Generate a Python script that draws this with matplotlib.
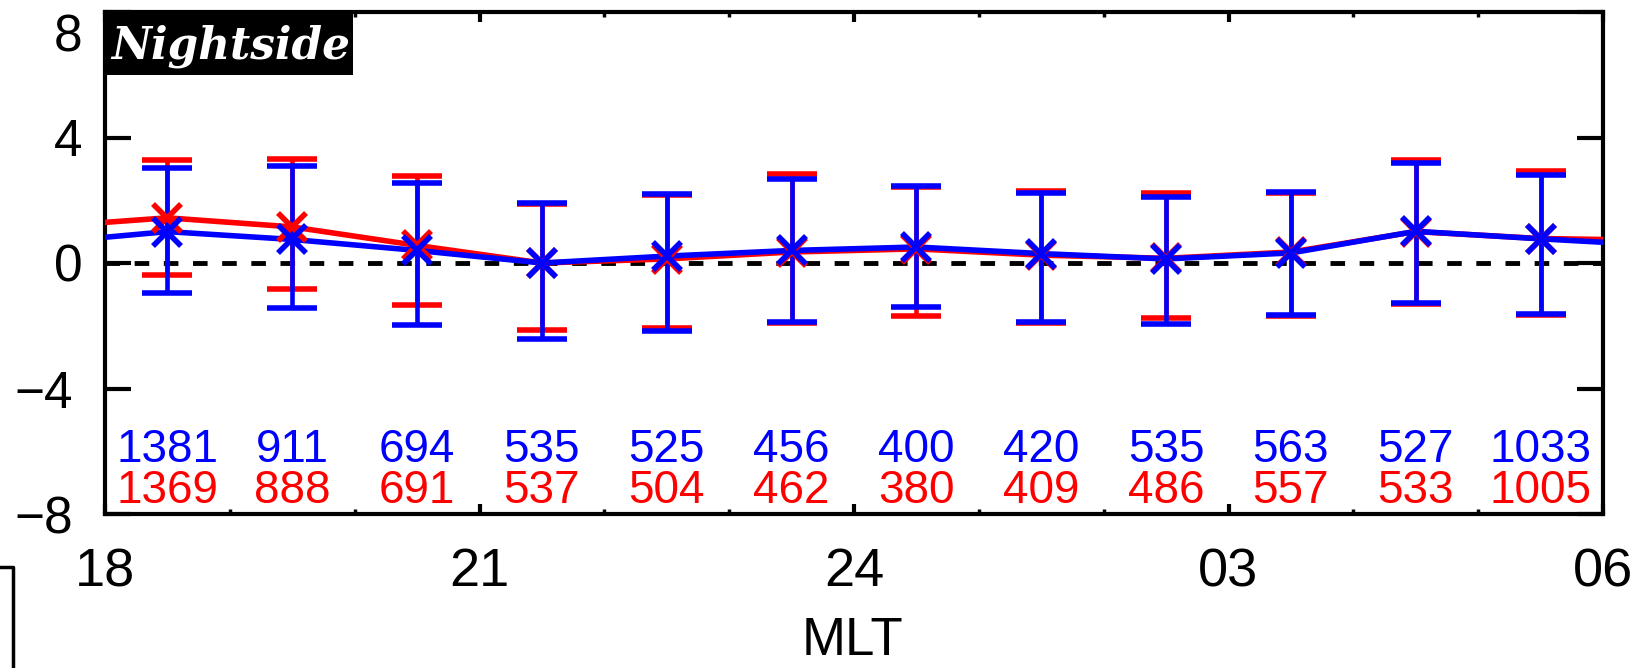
import matplotlib
matplotlib.use("Agg")
import matplotlib.pyplot as plt
import matplotlib.transforms as mtransforms
from matplotlib.patches import Rectangle
from matplotlib.lines import Line2D
from matplotlib.ticker import MultipleLocator

# MLT bin centres (hours, 24 = midnight, 30 = 06)
mlt = [18.5, 19.5, 20.5, 21.5, 22.5, 23.5, 24.5, 25.5, 26.5, 27.5, 28.5, 29.5]

# blue series: mean and error bar ends
blue_mean = [1.00, 0.75, 0.40, 0.00, 0.22, 0.40, 0.51, 0.30, 0.13, 0.32, 1.01, 0.77]
blue_hi = [3.02, 3.09, 2.55, 1.91, 2.21, 2.69, 2.46, 2.23, 2.09, 2.26, 3.20, 2.80]
blue_lo = [-0.96, -1.45, -1.99, -2.43, -2.16, -1.89, -1.40, -1.89, -1.93, -1.66, -1.29, -1.63]
blue_n = [1381, 911, 694, 535, 525, 456, 400, 420, 535, 563, 527, 1033]

# red series
red_mean = [1.44, 1.15, 0.56, 0.00, 0.13, 0.35, 0.45, 0.25, 0.15, 0.35, 1.00, 0.78]
red_hi = [3.27, 3.33, 2.76, 1.88, 2.18, 2.84, 2.43, 2.30, 2.24, 2.24, 3.27, 2.94]
red_lo = [-0.37, -0.82, -1.33, -2.14, -2.07, -1.90, -1.69, -1.92, -1.74, -1.68, -1.30, -1.65]
red_n = [1369, 888, 691, 537, 504, 462, 380, 409, 486, 557, 533, 1005]

# neighbouring bins just outside the plot (line continues to the frame)
edge_x = [17.5, 30.5]
blue_edge = [0.64, 0.55]
red_edge = [1.15, 0.72]

xticks = [18, 21, 24, 27, 30]
xticklabels = ["18", "21", "24", "03", "06"]
yticks = [-8, -4, 0, 4, 8]

plt.rcParams['font.family'] = ['Liberation Sans', 'DejaVu Sans']

fig = plt.figure(figsize=(16.35, 6.68), dpi=100)
ax = fig.add_axes([105 / 1635, 1 - 514 / 668, 1498 / 1635, 502 / 668])

ax.axhline(0, color='k', lw=3.5, ls=(0, (3, 3)), zorder=1)

for mean, hi, lo, edge, col in [(red_mean, red_hi, red_lo, red_edge, 'red'),
                                (blue_mean, blue_hi, blue_lo, blue_edge, 'blue')]:
    yerr = [[m - l for m, l in zip(mean, lo)], [h - m for m, h in zip(mean, hi)]]
    ax.plot([edge_x[0]] + mlt + [edge_x[1]], [edge[0]] + mean + [edge[1]],
            color=col, lw=4, zorder=3)
    ax.errorbar(mlt, mean, yerr=yerr, fmt='x', color=col, ms=20, mew=4,
                elinewidth=3.3, capsize=18, capthick=3.3, zorder=3)

for x, nb, nr in zip(mlt, blue_n, red_n):
    ax.text(x, -6.33, str(nb), color='blue', fontsize=33, ha='center', va='baseline')
    ax.text(x, -7.65, str(nr), color='red', fontsize=33, ha='center', va='baseline')

ax.set_xlim(18, 30)
ax.set_ylim(-8, 8)
ax.set_xticks(xticks)
ax.set_xticklabels(xticklabels)
ax.xaxis.set_minor_locator(MultipleLocator(1))
ax.set_yticks(yticks)
ax.set_yticklabels([str(v).replace('-', '\u2212') for v in yticks])

ax.tick_params(axis='x', which='major', direction='in', top=True, length=7, width=3,
               labelsize=39, pad=24)
ax.tick_params(axis='x', which='minor', direction='in', top=True, length=3.5, width=2.5)
ax.tick_params(axis='y', which='major', direction='in', right=True, length=19, width=3,
               labelsize=37, pad=16)
for s in ax.spines.values():
    s.set_linewidth(3)

# nudge y labels: top one down into the picture, negative ones a bit left
ylabs = ax.get_yticklabels()
for lab, v in zip(ylabs, yticks):
    if v == 8:
        dx, dy = 0, -20
    elif v < 0:
        dx, dy = -10, 0
    else:
        continue
    lab.set_transform(lab.get_transform() +
                      mtransforms.ScaledTranslation(dx / 100, dy / 100, fig.dpi_scale_trans))

# label box
ax.add_patch(Rectangle((0, 1 - 63 / 502), 248 / 1498, 63 / 502, transform=ax.transAxes,
                       facecolor='black', edgecolor='none', zorder=5, clip_on=False))
ax.text(6 / 1498, 1 - 46 / 502, "Nightside", transform=ax.transAxes, color='white',
        fontsize=31.5, fontweight='bold', fontstyle='italic', family='DejaVu Serif',
        ha='left', va='baseline', zorder=6)

fig.text(852 / 1635, 2 / 668, "MLT", fontsize=38, ha='center', va='bottom')

# piece of the neighbouring panel's frame at bottom left
fig.add_artist(Line2D([0, 13 / 1635, 13 / 1635], [1 - 567 / 668, 1 - 567 / 668, 0],
                      transform=fig.transFigure, color='black', lw=2.5))

fig.savefig("out.png", dpi=100)
